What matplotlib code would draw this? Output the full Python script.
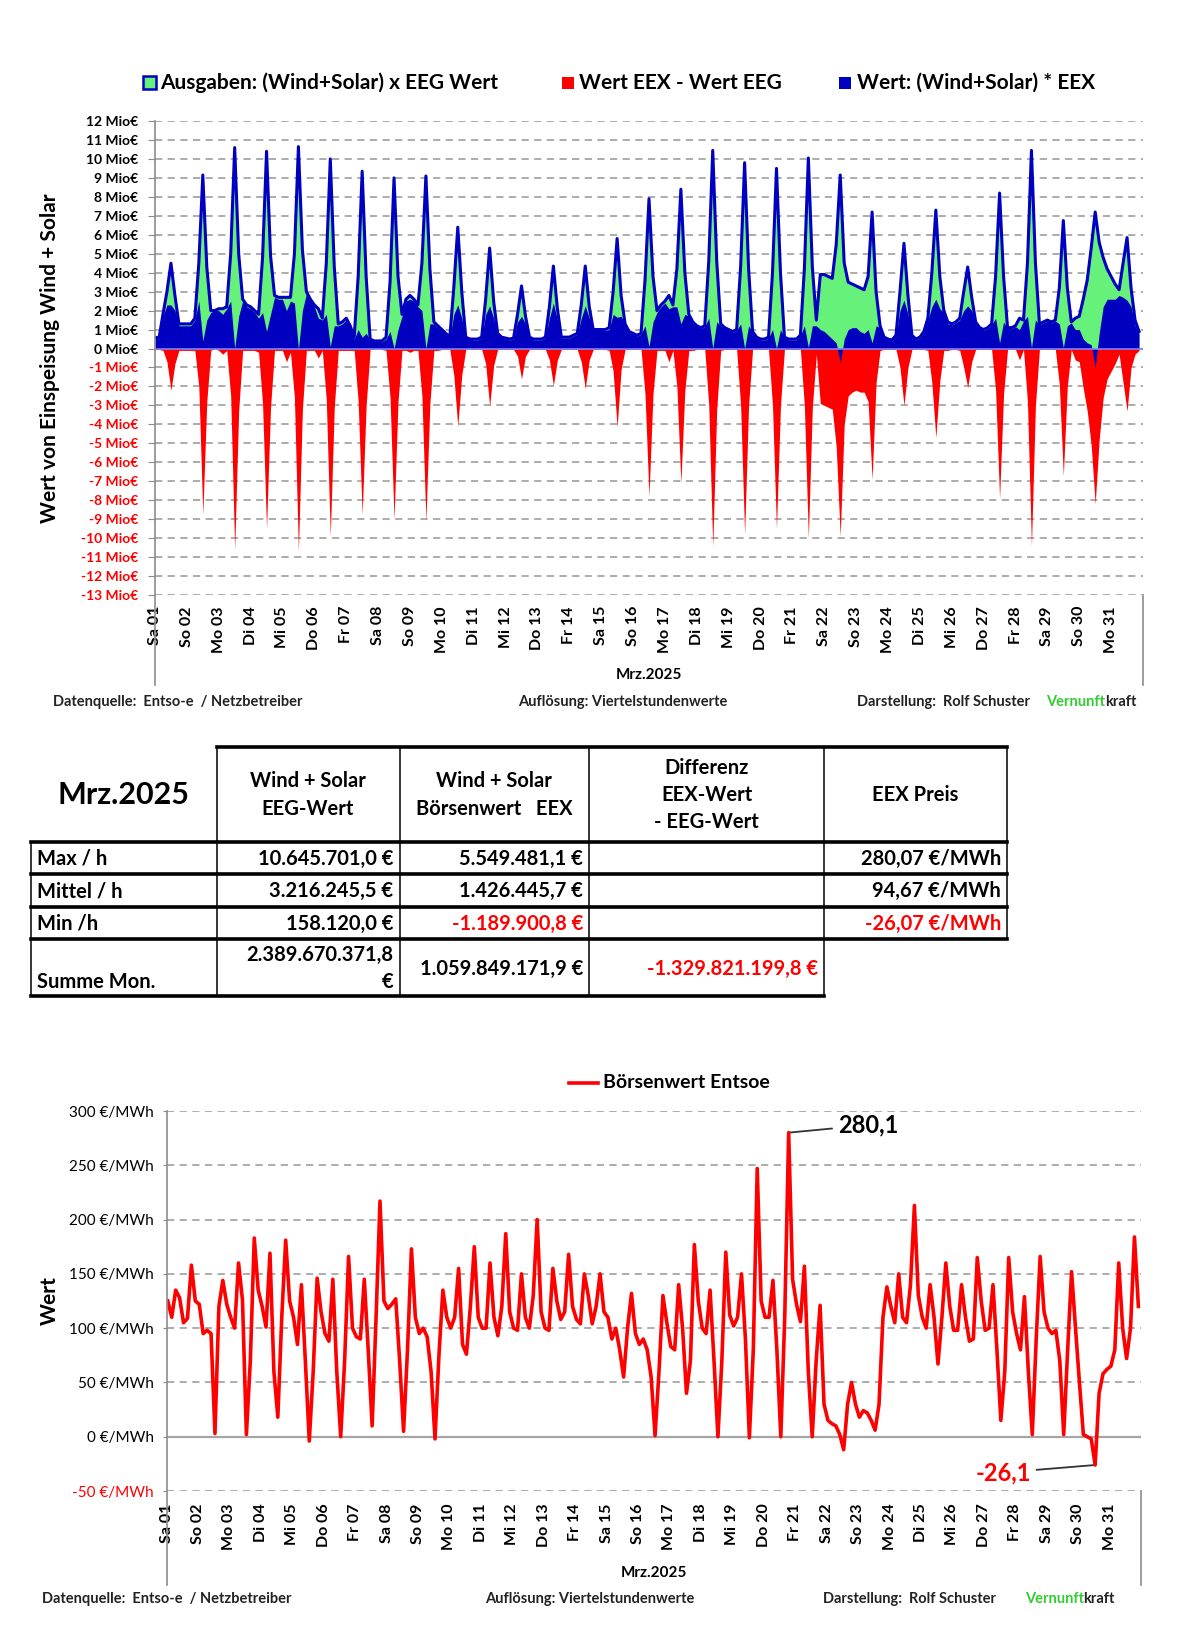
import numpy as np
import matplotlib.pyplot as plt
from matplotlib.patches import Rectangle

plt.rcParams['font.family'] = ['Lato', 'DejaVu Sans']

W, H = 1200, 1652

DAY_LABELS = ["Sa 01", "So 02", "Mo 03", "Di 04", "Mi 05", "Do 06", "Fr 07", "Sa 08",
              "So 09", "Mo 10", "Di 11", "Mi 12", "Do 13", "Fr 14", "Sa 15", "So 16",
              "Mo 17", "Di 18", "Mi 19", "Do 20", "Fr 21", "Sa 22", "So 23", "Mo 24",
              "Di 25", "Mi 26", "Do 27", "Fr 28", "Sa 29", "So 30", "Mo 31"]

# sample hours of each day
TOP_HOURS = [0, 3, 6, 9, 12, 15, 18, 21]
PRICE_HOURS = [1, 4, 7, 10, 13, 16, 19, 22]

# (Wind+Solar) x EEG value, Mio EUR
EEG_VALUE = [
    [0.6, 0.55, 1.8, 3.0, 4.5, 2.8, 1.3, 1.3],
    [1.3, 1.3, 1.6, 4.5, 9.15, 4.3, 2.0, 2.0],
    [2.1, 2.1, 2.2, 5.0, 10.6, 5.0, 2.6, 2.3],
    [2.2, 2.0, 1.8, 4.8, 10.4, 4.9, 2.8, 2.7],
    [2.7, 2.7, 2.7, 5.0, 10.65, 5.2, 3.0, 2.6],
    [2.3, 2.1, 1.6, 4.5, 10.0, 4.3, 1.3, 1.4],
    [1.6, 1.2, 0.6, 3.8, 9.35, 3.8, 0.5, 0.4],
    [0.4, 0.4, 0.6, 3.5, 9.0, 3.8, 1.8, 2.6],
    [2.8, 2.6, 2.3, 4.5, 9.1, 4.2, 1.4, 1.2],
    [1.0, 0.8, 0.6, 3.2, 6.4, 3.0, 0.6, 0.5],
    [0.5, 0.5, 0.6, 2.6, 5.3, 2.5, 0.8, 0.6],
    [0.55, 0.5, 0.55, 1.8, 3.3, 1.7, 0.6, 0.5],
    [0.5, 0.5, 0.6, 2.2, 4.35, 2.1, 0.6, 0.6],
    [0.6, 0.7, 0.8, 2.3, 4.35, 2.2, 1.0, 1.0],
    [1.0, 1.0, 1.1, 3.0, 5.8, 2.8, 1.3, 0.9],
    [0.8, 0.7, 0.8, 3.6, 7.9, 3.8, 2.0, 2.3],
    [2.5, 2.8, 2.3, 4.2, 8.4, 4.0, 1.8, 1.4],
    [1.2, 1.1, 1.2, 4.6, 10.45, 4.6, 1.3, 1.1],
    [1.0, 0.9, 1.0, 4.3, 9.8, 4.2, 0.9, 0.6],
    [0.5, 0.5, 0.6, 4.0, 9.5, 4.0, 0.6, 0.5],
    [0.5, 0.5, 0.7, 4.2, 10.05, 4.3, 1.5, 3.9],
    [3.9, 3.8, 3.7, 5.5, 9.15, 4.5, 3.5, 3.4],
    [3.3, 3.2, 3.1, 3.8, 7.2, 3.0, 1.2, 0.6],
    [0.5, 0.45, 0.7, 3.0, 5.55, 2.8, 0.7, 0.5],
    [0.6, 0.9, 1.6, 4.0, 7.3, 3.8, 2.0, 1.4],
    [1.3, 1.4, 1.6, 3.0, 4.3, 2.7, 1.4, 1.1],
    [1.0, 1.1, 1.3, 3.8, 8.2, 3.8, 1.1, 1.1],
    [1.2, 1.6, 1.5, 4.5, 10.45, 4.5, 1.3, 1.4],
    [1.5, 1.4, 1.5, 3.2, 6.75, 3.2, 1.4, 1.6],
    [1.7, 2.6, 3.6, 5.3, 7.2, 5.6, 4.8, 4.2],
    [3.8, 3.4, 3.1, 4.5, 5.85, 3.2, 1.5, 0.9],
]

# (Wind+Solar) x EEX value, Mio EUR
EEX_VALUE = [
    [0.55, 0.5, 1.7, 2.3, 2.3, 2.0, 1.2, 1.2],
    [1.2, 1.2, 1.5, 2.5, 0.4, 1.5, 1.9, 2.0],
    [2.0, 1.8, 2.1, 2.5, 0.0, 1.7, 2.5, 2.2],
    [2.1, 1.9, 1.6, 1.9, 0.9, 1.8, 2.7, 2.6],
    [2.6, 2.0, 2.5, 2.4, -0.05, 2.0, 2.9, 2.5],
    [2.2, 1.6, 1.5, 1.8, 0.1, 1.2, 1.2, 1.3],
    [1.5, 1.1, 0.5, 1.0, 0.6, 0.8, 0.45, 0.4],
    [0.4, 0.35, 0.5, 0.9, 0.0, 1.0, 1.7, 2.5],
    [2.6, 2.5, 2.2, 2.0, 0.0, 1.3, 1.3, 1.1],
    [0.95, 0.75, 0.55, 1.8, 2.3, 1.6, 0.55, 0.5],
    [0.45, 0.45, 0.55, 1.8, 2.25, 1.6, 0.75, 0.55],
    [0.5, 0.45, 0.5, 1.4, 1.7, 1.3, 0.55, 0.45],
    [0.45, 0.45, 0.55, 1.6, 2.4, 1.5, 0.55, 0.55],
    [0.55, 0.65, 0.75, 1.6, 2.25, 1.6, 0.95, 0.95],
    [0.95, 0.95, 1.0, 1.8, 1.65, 1.7, 1.25, 0.85],
    [0.75, 0.65, 0.75, 1.2, 0.1, 1.4, 1.9, 2.2],
    [2.4, 2.1, 2.2, 2.2, 1.3, 1.8, 1.7, 1.3],
    [1.15, 1.05, 1.15, 1.6, 0.0, 1.4, 1.2, 1.05],
    [0.95, 0.85, 0.95, 1.3, 0.0, 1.2, 0.85, 0.55],
    [0.45, 0.45, 0.55, 1.0, 0.0, 1.0, 0.55, 0.45],
    [0.45, 0.45, 0.65, 1.2, 0.05, 1.2, 1.2, 1.0],
    [0.9, 0.7, 0.5, 0.3, -0.75, 0.5, 1.0, 1.1],
    [1.1, 0.9, 0.8, 1.0, 0.3, 1.2, 1.1, 0.55],
    [0.45, 0.4, 0.65, 2.0, 2.55, 1.8, 0.65, 0.45],
    [0.55, 0.85, 1.5, 2.2, 2.6, 2.1, 1.9, 1.3],
    [1.25, 1.35, 1.5, 2.0, 2.25, 2.0, 1.35, 1.05],
    [0.95, 1.05, 1.25, 1.6, 0.3, 1.4, 1.05, 1.05],
    [1.15, 1.0, 1.45, 1.7, 0.05, 1.5, 1.25, 1.35],
    [1.45, 1.35, 1.45, 1.3, 0.05, 1.2, 1.35, 1.0],
    [1.0, 0.5, 0.3, 0.2, -1.0, 0.8, 2.2, 2.6],
    [2.6, 2.6, 2.8, 2.7, 2.55, 2.2, 1.2, 0.8],
]

# Boersenwert Entsoe, EUR/MWh
PRICE = [
    [125, 110, 135, 128, 105, 109, 158, 125],
    [122, 95, 98, 95, 3, 120, 144, 122],
    [110, 100, 160, 126, 2, 70, 183, 135],
    [120, 101, 169, 60, 18, 110, 181, 125],
    [110, 85, 140, 70, -4, 60, 146, 115],
    [95, 88, 145, 60, 0, 70, 166, 100],
    [92, 90, 145, 80, 10, 110, 217, 125],
    [118, 122, 127, 70, 5, 80, 173, 110],
    [95, 100, 92, 60, -2, 75, 135, 110],
    [100, 110, 155, 85, 76, 120, 175, 110],
    [100, 100, 160, 110, 93, 120, 187, 115],
    [100, 98, 150, 110, 100, 130, 200, 115],
    [100, 98, 155, 125, 108, 115, 168, 120],
    [108, 104, 150, 130, 104, 120, 150, 115],
    [110, 90, 100, 80, 55, 100, 132, 95],
    [85, 90, 80, 55, 1, 60, 130, 105],
    [83, 80, 140, 100, 40, 70, 177, 125],
    [100, 95, 135, 70, 0, 70, 170, 112],
    [102, 110, 150, 90, -1, 80, 247, 125],
    [110, 110, 144, 80, 0, 110, 280.07, 145],
    [122, 106, 157, 60, 0, 70, 121, 30],
    [15, 12, 10, 2, -12, 30, 50, 30],
    [18, 24, 22, 15, 6, 30, 110, 138],
    [120, 105, 150, 110, 105, 140, 213, 130],
    [110, 100, 140, 110, 67, 110, 160, 120],
    [98, 98, 140, 110, 88, 90, 165, 125],
    [98, 100, 140, 80, 15, 60, 165, 115],
    [95, 80, 129, 60, 2, 90, 166, 115],
    [100, 95, 98, 70, 2, 80, 152, 100],
    [50, 2, 0, -2, -26.07, 40, 58, 62],
    [65, 80, 160, 100, 72, 100, 184, 120],
]

# table
TAB_TITLE = "Mrz.2025"
TAB_HEAD = ["Wind + Solar\nEEG-Wert", "Wind + Solar\nBörsenwert   EEX",
            "Differenz\nEEX-Wert\n- EEG-Wert", "EEX Preis"]
TAB_ROWS = ["Max / h", "Mittel / h", "Min /h", "Summe Mon."]
COL_EEG = ["10.645.701,0 €", "3.216.245,5 €", "158.120,0 €", "2.389.670.371,8\n€"]
COL_EEX = ["5.549.481,1 €", "1.426.445,7 €", "-1.189.900,8 €", "1.059.849.171,9 €"]
COL_DIFF = ["", "", "", "-1.329.821.199,8 €"]
COL_PRICE = ["280,07 €/MWh", "94,67 €/MWh", "-26,07 €/MWh", ""]

GREEN = '#66F27A'
BLUE = '#0000C0'
RED = '#FF0000'
GRID = '#A6A6A6'
AXC = '#8C8C8C'


def box(x0, y0, x1, y1):
    return [x0 / W, 1 - y1 / H, (x1 - x0) / W, (y1 - y0) / H]


def day_x(hours, n_days):
    return (np.arange(n_days)[:, None] + np.array(hours)[None, :] / 24.0).ravel()


fig = plt.figure(figsize=(W / 100, H / 100), dpi=100)

# ---------------- top chart ----------------
ax = fig.add_axes(box(155, 121, 1143, 595))
ax.set_facecolor('none')
x_top = day_x(TOP_HOURS, len(EEG_VALUE))
eeg = np.array(EEG_VALUE).ravel()
eex = np.array(EEX_VALUE).ravel()
diff = np.minimum(eex - eeg, 0)

ax.fill_between(x_top, diff, 0, color=RED, lw=0, zorder=2)
ax.fill_between(x_top, 0, eeg, color=GREEN, lw=0, zorder=3)
ax.plot(x_top, eeg, color=BLUE, lw=2.2, zorder=5)
ax.fill_between(x_top, 0, eex, color=BLUE, lw=0, zorder=4)
ax.axhline(0, color='#8080FF', lw=1.2, zorder=6)

ax.set_xlim(0, 31)
ax.set_ylim(-13, 12)
yt = np.arange(-13, 13)
ax.set_yticks(yt)
ax.set_yticklabels([f"{v} Mio€" for v in yt], fontsize=10, fontweight='bold')
for lab, v in zip(ax.get_yticklabels(), yt):
    lab.set_color(RED if v < 0 else 'black')
ax.yaxis.grid(True, ls=(0, (4, 3)), color=GRID, lw=1.3, zorder=1)
ax.set_axisbelow(True)
ax.tick_params(axis='y', length=5, pad=7, color=AXC)
ax.set_xticks(range(31))
ax.set_xticklabels(DAY_LABELS, rotation=90, fontsize=11.5, fontweight='bold')
ax.tick_params(axis='x', length=0, pad=8)
for s in ax.spines.values():
    s.set_visible(False)

# ---------------- bottom chart ----------------
bx = fig.add_axes(box(166.5, 1111, 1141, 1491))
bx.set_facecolor('none')
x_pr = day_x(PRICE_HOURS, len(PRICE))
price = np.array(PRICE, dtype=float).ravel()
bx.plot(x_pr, price, color=RED, lw=2.6, zorder=4)
bx.set_xlim(0, 31)
bx.set_ylim(-50, 300)
pt = np.arange(-50, 301, 50)
bx.set_yticks(pt)
bx.set_yticklabels([f"{v} €/MWh" for v in pt], fontsize=11)
for lab, v in zip(bx.get_yticklabels(), pt):
    lab.set_color(RED if v < 0 else 'black')
bx.yaxis.grid(True, ls=(0, (4, 3)), color=GRID, lw=1.3, zorder=1)
bx.axhline(0, color=GRID, lw=1.6, zorder=2)
bx.tick_params(axis='y', length=3, pad=6, color=AXC)
bx.set_xticks(range(31))
bx.set_xticklabels(DAY_LABELS, rotation=90, fontsize=11.5, fontweight='bold')
bx.tick_params(axis='x', length=0, pad=9)
for s in bx.spines.values():
    s.set_visible(False)

i_max = np.argmax(price)
i_min = np.argmin(price)
bx.annotate(f"{price[i_max]:.1f}".replace('.', ','), xy=(x_pr[i_max], price[i_max]),
            xytext=(21.35, 287), ha='left', va='center', fontsize=17, fontweight='bold',
            arrowprops=dict(arrowstyle='-', color='#333333', lw=1.3,
                            shrinkA=2, shrinkB=0))
bx.annotate(f"{price[i_min]:.1f}".replace('.', ','), xy=(x_pr[i_min], price[i_min]),
            xytext=(27.5, -33), ha='right', va='center', fontsize=17, fontweight='bold',
            color=RED, arrowprops=dict(arrowstyle='-', color='#333333', lw=1.3,
                                       shrinkA=2, shrinkB=0))

# ---------------- overlay: legends, axis lines, footers, table ----------------
ov = fig.add_axes([0, 0, 1, 1], zorder=10)
ov.set_xlim(0, W)
ov.set_ylim(H, 0)
ov.axis('off')

# axis lines
ov.plot([155, 155], [121, 685], color=AXC, lw=1.2)
ov.plot([1143, 1143], [595, 685], color=AXC, lw=1.2)
ov.plot([166.5, 166.5], [1111, 1585], color=AXC, lw=1.2)
ov.plot([1141, 1141], [1491, 1585], color=AXC, lw=1.2)

# top legend
ov.add_patch(Rectangle((143, 76), 13, 13, facecolor=GREEN, edgecolor=BLUE, lw=1.8))
ov.text(160, 83, "Ausgaben: (Wind+Solar) x EEG Wert", fontsize=15, fontweight='bold', va='center')
ov.add_patch(Rectangle((562, 77), 12, 12, facecolor=RED, edgecolor=RED, lw=0))
ov.text(579, 83, "Wert EEX - Wert EEG", fontsize=15, fontweight='bold', va='center')
ov.add_patch(Rectangle((839, 77), 12, 12, facecolor=BLUE, edgecolor=BLUE, lw=0))
ov.text(857, 83, "Wert: (Wind+Solar) * EEX", fontsize=15, fontweight='bold', va='center')

# bottom legend
ov.plot([569, 598], [1083, 1083], color=RED, lw=2.6)
ov.text(603, 1083, "Börsenwert Entsoe", fontsize=14, fontweight='bold', va='center')

# axis titles
ov.text(50, 358, "Wert von Einspeisung Wind + Solar", rotation=90, fontsize=15,
        fontweight='bold', ha='center', va='center')
ov.text(50, 1301, "Wert", rotation=90, fontsize=15, fontweight='bold', ha='center', va='center')
ov.text(649, 675, "Mrz.2025", fontsize=11, fontweight='bold', ha='center', va='center')
ov.text(654, 1573, "Mrz.2025", fontsize=11, fontweight='bold', ha='center', va='center')

# footers
renderer = fig.canvas.get_renderer()


def footer(y, x_src, x_res, x_by, x_end):
    kw = dict(fontsize=10.5, fontweight='bold', va='center', color='#222222')
    ov.text(x_src, y, "Datenquelle:  Entso-e  / Netzbetreiber", **kw)
    ov.text(x_res, y, "Auflösung: Viertelstundenwerte", ha='center', **kw)
    ov.text(x_by, y, "Darstellung:  Rolf Schuster", **kw)
    t = ov.text(x_end, y, "kraft", ha='right', **kw)
    left = t.get_window_extent(renderer).x0
    x_left = ov.transData.inverted().transform((left, 0))[0]
    ov.text(x_left, y, "Vernunft", ha='right', fontsize=10.5, fontweight='bold',
            va='center', color='#33CC33')


footer(702, 53, 623, 857, 1136)
footer(1599, 42, 590, 823, 1115)

# table
CX = [30.6, 216.6, 399.5, 589.3, 824.2, 1007]
RY = [746.7, 841.7, 874, 906.7, 939, 996]
thick, thin = 2.6, 1.1
ov.plot([CX[1], CX[5]], [RY[0], RY[0]], color='black', lw=thick)
for y in RY[1:5]:
    ov.plot([CX[0], CX[5]], [y, y], color='black', lw=thick)
ov.plot([CX[0], CX[4]], [RY[5], RY[5]], color='black', lw=thick)
for x in CX[1:]:
    ov.plot([x, x], [RY[0], RY[1]], color='black', lw=thin)
for x in CX:
    ov.plot([x, x], [RY[1], RY[4]], color='black', lw=thin)
for x in CX[:5]:
    ov.plot([x, x], [RY[4], RY[5]], color='black', lw=thin)

ov.text((CX[0] + CX[1]) / 2, 795, TAB_TITLE, fontsize=22, fontweight='bold', ha='center', va='center')
for i, head in enumerate(TAB_HEAD):
    ov.text((CX[i + 1] + CX[i + 2]) / 2, 795, head, fontsize=14.5, fontweight='bold',
            ha='center', va='center', linespacing=1.45)

cols = [COL_EEG, COL_EEX, COL_DIFF, COL_PRICE]
for r, name in enumerate(TAB_ROWS):
    yc = (RY[r + 1] + RY[r + 2]) / 2 + 1
    if r == 3:
        ov.text(CX[0] + 6, RY[5] - 4, name, fontsize=14.5, fontweight='bold', ha='left', va='bottom')
    else:
        ov.text(CX[0] + 6, yc, name, fontsize=14.5, fontweight='bold', ha='left', va='center')
    for c, col in enumerate(cols):
        val = col[r]
        if not val:
            continue
        ov.text(CX[c + 2] - 6, yc, val, fontsize=14.5, fontweight='bold', ha='right', va='center',
                multialignment='right', linespacing=1.5,
                color=RED if val.startswith('-') else 'black')

fig.savefig("out.png", dpi=100)
